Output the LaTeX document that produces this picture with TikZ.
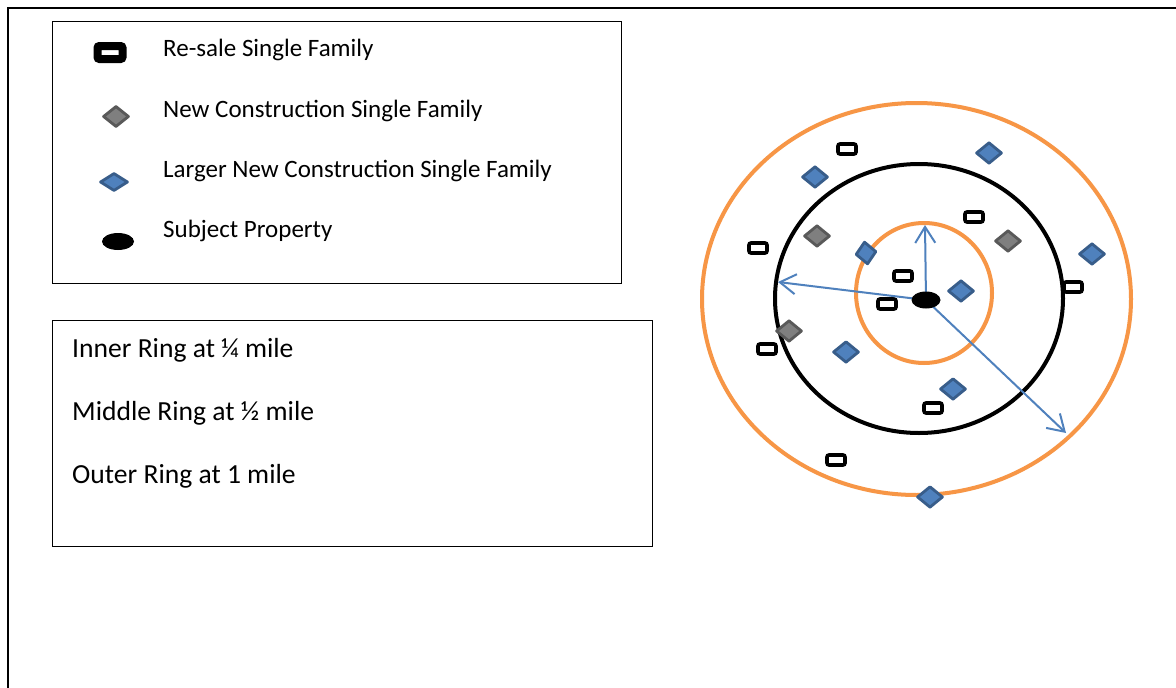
\documentclass[tikz,border=0pt]{standalone}
\usepackage{fontspec}
\setmainfont{Carlito}
\usetikzlibrary{shapes.geometric,arrows.meta}
\definecolor{ringorange}{HTML}{F79646}
\definecolor{arrowblue}{HTML}{4F81BD}
\definecolor{bluefill}{HTML}{4F81BD}
\definecolor{blueedge}{HTML}{385D8A}
\definecolor{grayfill}{HTML}{7F7F7F}
\definecolor{grayedge}{HTML}{595959}
\pgfdeclarelayer{top}
\pgfsetlayers{main,top}
\tikzset{
  panel/.style={draw=black, line width=1.1, anchor=north west, inner sep=0},
  legtext/.style={anchor=base west, inner sep=0, font=\fontsize{25}{30}\selectfont},
  ringtext/.style={anchor=base west, inner sep=0, font=\fontsize{27.6}{33}\selectfont},
  resale/.style={rectangle, rounded corners=2, draw=black, fill=white,
    line width=3.6, minimum width=18, minimum height=10, inner sep=0},
  resalebig/.style={resale, rounded corners=2, line width=8,
    minimum width=25, minimum height=13},
  newcon/.style={diamond, draw=grayedge, fill=grayfill, line width=2.8,
    line join=round, minimum width=26, minimum height=21.5, inner sep=0},
  largenew/.style={newcon, draw=blueedge, fill=bluefill},
  subject/.style={ellipse, fill=black, inner sep=0,
    minimum width=29, minimum height=17},
  ring/.style={ellipse, draw=#1, line width=4, inner sep=0},
  radius arrow/.style={draw=arrowblue, line width=2,
    -{Straight Barb[length=16,width=20,line width=2]}}
}
\begin{document}
\begin{tikzpicture}[x=1pt,y=-1pt]
\useasboundingbox (0,0) rectangle (1176,688);
\fill[white] (0,0) rectangle (1176,688);

% page frame, open to the right and bottom
\draw[line width=2] (1176,7.5) -- (7.5,7.5) -- (7.5,688);

% legend panel
\node[panel, minimum width=569, minimum height=262] (legend) at (52,21) {};
\node[resalebig] (kresale) at (110,52.5) {};
\node[newcon, minimum width=26, minimum height=21] (knew) at (116,116.5) {};
\node[largenew, minimum width=28, minimum height=18] (klarge) at (114,182) {};
\node[subject, minimum width=32] (ksubj) at (118,241.5) {};
\node[legtext] (lresale) at (163,56) {Re-sale Single Family};
\node[legtext] (lnew) at (163,117) {New Construction Single Family};
\node[legtext] (llarge) at (163,177) {Larger New Construction Single Family};
\node[legtext] (lsubj) at (163,237) {Subject Property};

% ring distances panel
\node[panel, minimum width=600, minimum height=226] (rings) at (52,320) {};
\node[ringtext] (rinner) at (72,357) {Inner Ring at ¼ mile};
\node[ringtext] (rmiddle) at (72,420) {Middle Ring at ½ mile};
\node[ringtext] (router) at (72,483) {Outer Ring at 1 mile};

% rings
\node[ring=ringorange, minimum width=429, minimum height=392] (outerring) at (916.5,299) {};
\node[ring=black, minimum width=288, minimum height=269] (midring) at (919,298.5) {};
\node[ring=ringorange, minimum width=136, minimum height=140] (innerring) at (924,293) {};

% re-sale single family homes
\node[resale] (s1) at (847,149) {};
\node[resale] (s2) at (974,217) {};
\node[resale] (s3) at (758,248) {};
\node[resale] (s4) at (903,276) {};
\node[resale] (s5) at (887,304) {};
\node[resale] (s6) at (1073,287) {};
\node[resale] (s7) at (767,349) {};
\node[resale] (s8) at (933,408) {};
\node[resale] (s9) at (836,460) {};

% larger new construction
\node[largenew] (b1) at (989,153) {};
\node[largenew] (b2) at (815,177) {};
\node[largenew, minimum width=21, minimum height=23, rotate=8] (b3) at (866,253) {};
\node[largenew] (b4) at (961,291) {};
\node[largenew] (b5) at (1092,254) {};
\node[largenew] (b6) at (846,352) {};
\node[largenew] (b7) at (953,389) {};
\node[largenew] (b8) at (930,497) {};

% new construction
\node[newcon] (g1) at (817,236) {};
\node[newcon] (g2) at (1008,241) {};
\node[newcon] (g3) at (789,331) {};

% subject property and ring radii
\begin{pgfonlayer}{top}
\node[subject] (subj) at (926,300) {};
\end{pgfonlayer}
\coordinate (tipN) at (925,225);
\coordinate (tipW) at (778,282);
\coordinate (tipSE) at (1066,433);
\draw[radius arrow] (subj.center) -- (tipN);
\draw[radius arrow] (subj.center) -- (tipW);
\draw[radius arrow] (subj.center) -- (tipSE);
\end{tikzpicture}
\end{document}
